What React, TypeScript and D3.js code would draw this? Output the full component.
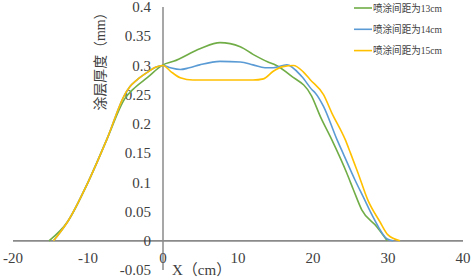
import React from "react";
import * as d3 from "d3";

const xTicks = [-20, -10, 0, 10, 20, 30, 40];
const yTicks = [-0.05, 0, 0.05, 0.1, 0.15, 0.2, 0.25, 0.3, 0.35, 0.4];
const yTickLabels = ["-0.05", "0", "0.05", "0.1", "0.15", "0.2", "0.25", "0.3", "0.35", "0.4"];

const seriesNames = ["喷涂间距为13cm", "喷涂间距为14cm", "喷涂间距为15cm"];
const seriesColors = ["#70AD47", "#5B9BD5", "#FFC000"];

const greenX = [-15.2, -12.7, -10, -7.5, -5, -4, -2.1, 0, 1.4, 5, 7.6, 10.3, 12, 14, 14.8, 17, 19.8, 21, 22.5, 24.5, 25.4, 26.5, 28.5, 29.9];
const greenY = [0, 0.033, 0.1, 0.173, 0.245, 0.259, 0.279, 0.301, 0.307, 0.329, 0.339, 0.332, 0.319, 0.306, 0.302, 0.283, 0.248, 0.212, 0.173, 0.116, 0.087, 0.053, 0.024, 0];

const blueX = [-14.6, -12.7, -10, -7.5, -5.1, -4.4, -3.5, -2, -1, 0, 1, 2.3, 3.5, 4.9, 7.6, 10.3, 12, 13.6, 14.7, 16.5, 18.5, 19.9, 20.3, 21.4, 23.2, 24, 25.6, 26.7, 28, 29.9, 30.7];
const blueY = [0, 0.033, 0.1, 0.173, 0.25, 0.264, 0.275, 0.289, 0.297, 0.3, 0.296, 0.293, 0.296, 0.301, 0.307, 0.306, 0.301, 0.296, 0.296, 0.301, 0.281, 0.258, 0.253, 0.23, 0.173, 0.15, 0.104, 0.075, 0.041, 0.003, 0];

const yellowX = [-14.6, -12.7, -10, -7.5, -5.1, -4.4, -3.5, -2, -1, 0, 1, 2.3, 4, 8, 12, 13.4, 14.7, 16, 17.4, 18.7, 19.6, 21.4, 22.5, 24.3, 25, 26, 27.3, 28.9, 30, 31.6];
const yellowY = [0, 0.033, 0.1, 0.173, 0.25, 0.264, 0.275, 0.289, 0.297, 0.3, 0.29, 0.279, 0.275, 0.275, 0.275, 0.277, 0.29, 0.298, 0.3, 0.289, 0.276, 0.25, 0.219, 0.173, 0.15, 0.116, 0.07, 0.033, 0.01, 0];

const seriesX = [greenX, blueX, yellowX];
const seriesY = [greenY, blueY, yellowY];

export default function App() {
  const W = 472, H = 279;
  const x = d3.scaleLinear().domain([-20, 40]).range([13, 463]);
  const y = d3.scaleLinear().domain([-0.05, 0.4]).range([270, 7]);
  const line = d3
    .line<[number, number]>()
    .x((d) => x(d[0]))
    .y((d) => y(d[1]))
    .curve(d3.curveMonotoneX);
  const serif = { fontFamily: "\"Liberation Serif\", \"DejaVu Serif\", serif" };
  const cjk = { fontFamily: "\"Liberation Serif\", \"Noto Sans CJK SC\", serif" };
  const textColor = "#404040";
  const axisColor = "#8a8a8a";

  return (
    <svg width={W} height={H} style={{ position: "absolute", left: 0, top: 0, background: "#fff" }}>
      <line x1={x(-20)} x2={x(40)} y1={y(0)} y2={y(0)} stroke={axisColor} strokeWidth={1.8} />
      <line x1={x(0)} x2={x(0)} y1={y(0.4)} y2={y(-0.05)} stroke={axisColor} strokeWidth={1.5} />
      {yTicks.map((t, i) => (
        <text key={"y" + i} x={151} y={y(t)} dy="0.35em" textAnchor="end" style={serif} fontSize={15} fill={textColor}>
          {yTickLabels[i]}
        </text>
      ))}
      {xTicks.map((t, i) => (
        <text key={"x" + i} x={x(t)} y={258} dy="0.35em" textAnchor="middle" style={serif} fontSize={15} fill={textColor}>
          {String(t)}
        </text>
      ))}
      {seriesX.map((xs, si) => (
        <path
          key={"s" + si}
          d={line(xs.map((v, i) => [v, seriesY[si][i]] as [number, number])) || ""}
          fill="none"
          stroke={seriesColors[si]}
          strokeWidth={1.6}
        />
      ))}
      <text x={172} y={270} dy="0.35em" style={cjk} fontSize={15} fill={textColor}>
        X（cm）
      </text>
      <text
        transform={`translate(100,58) rotate(-90)`}
        textAnchor="middle"
        dy="0.35em"
        style={cjk}
        fontSize={14}
        fill={textColor}
        textLength={105}
        lengthAdjust="spacingAndGlyphs"
      >
        涂层厚度（mm）
      </text>
      {seriesNames.map((n, i) => (
        <g key={"l" + i} transform={`translate(0,${8 + i * 21.3})`}>
          <line x1={354} x2={372} y1={0} y2={0} stroke={seriesColors[i]} strokeWidth={1.6} />
          <text x={373} y={0} dy="0.35em" style={cjk} fontSize={10} fill={textColor} textLength={69} lengthAdjust="spacingAndGlyphs">
            {n}
          </text>
        </g>
      ))}
    </svg>
  );
}
